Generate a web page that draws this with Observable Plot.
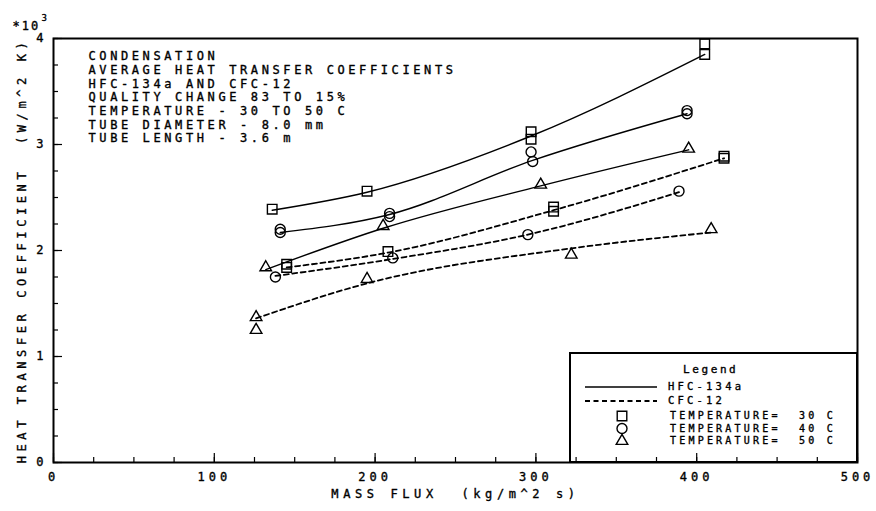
<!DOCTYPE html>
<html><head><meta charset="utf-8">
<script src="https://cdn.jsdelivr.net/npm/d3@7"></script>
<script src="https://cdn.jsdelivr.net/npm/@observablehq/plot@0.6"></script>
<style>
html,body{margin:0;padding:0;background:#fff;}
#chart svg text{white-space:pre;stroke:#000;stroke-width:0.35px;}
</style></head><body><div id="chart"></div>
<script>
// ---- Data (HTC in units of 10^3 W/m^2 K) ----
const hfc30Flux = [136, 195, 297, 297, 405, 405];
const hfc30Htc  = [2.39, 2.56, 3.12, 3.05, 3.95, 3.85];
const hfc40Flux = [141, 141, 209, 209, 297, 298, 394, 394];
const hfc40Htc  = [2.20, 2.17, 2.35, 2.32, 2.93, 2.84, 3.32, 3.29];
const hfc50Flux = [132, 205, 303, 395];
const hfc50Htc  = [1.84, 2.23, 2.62, 2.96];
const cfc30Flux = [145, 145, 208, 311, 311, 417, 417];
const cfc30Htc  = [1.87, 1.84, 1.99, 2.41, 2.37, 2.89, 2.87];
const cfc40Flux = [138, 211, 295, 389];
const cfc40Htc  = [1.75, 1.93, 2.15, 2.56];
const cfc50Flux = [126, 126, 195, 322, 409];
const cfc50Htc  = [1.37, 1.25, 1.73, 1.96, 2.20];

// fitted curves as drawn in the reference
const hfc30FitFlux = [136, 195, 297, 405];
const hfc30FitHtc  = [2.38, 2.55, 3.08, 3.85];
const hfc40FitFlux = [141, 209, 298, 394];
const hfc40FitHtc  = [2.17, 2.34, 2.85, 3.29];
const hfc50FitFlux = [132, 205, 303, 395];
const hfc50FitHtc  = [1.82, 2.21, 2.61, 2.95];
const cfc30FitFlux = [145, 208, 311, 417];
const cfc30FitHtc  = [1.84, 1.98, 2.38, 2.87];
const cfc40FitFlux = [138, 211, 295, 389];
const cfc40FitHtc  = [1.76, 1.92, 2.15, 2.55];
const cfc50FitFlux = [126, 195, 322, 409];
const cfc50FitHtc  = [1.36, 1.69, 2.02, 2.17];

const xMajor = [0, 100, 200, 300, 400, 500];
const xMinor = d3.range(0, 501, 25);
const yMajor = [0, 1, 2, 3, 4];
const yMinor = d3.range(0, 4.01, 0.25);

const notes = [
  "CONDENSATION",
  "AVERAGE HEAT TRANSFER COEFFICIENTS",
  "HFC-134a AND CFC-12",
  "QUALITY CHANGE 83 TO 15%",
  "TEMPERATURE - 30 TO 50 C",
  "TUBE DIAMETER - 8.0 mm",
  "TUBE LENGTH - 3.6 m"
];
const xTitle = "MASS FLUX  (kg/m^2 s)";
const yTitle = "HEAT TRANSFER COEFFICIENT  (W/m^2 K)";
const legendTitle = "Legend";
const refrigerants = ["HFC-134a", "CFC-12"];
const tempLabels = ["TEMPERATURE=  30 C", "TEMPERATURE=  40 C", "TEMPERATURE=  50 C"];

// ---- Build tables ----
const series = [
  {ref: "HFC-134a", temp: 30, flux: hfc30Flux, htc: hfc30Htc, ff: hfc30FitFlux, fh: hfc30FitHtc},
  {ref: "HFC-134a", temp: 40, flux: hfc40Flux, htc: hfc40Htc, ff: hfc40FitFlux, fh: hfc40FitHtc},
  {ref: "HFC-134a", temp: 50, flux: hfc50Flux, htc: hfc50Htc, ff: hfc50FitFlux, fh: hfc50FitHtc},
  {ref: "CFC-12", temp: 30, flux: cfc30Flux, htc: cfc30Htc, ff: cfc30FitFlux, fh: cfc30FitHtc},
  {ref: "CFC-12", temp: 40, flux: cfc40Flux, htc: cfc40Htc, ff: cfc40FitFlux, fh: cfc40FitHtc},
  {ref: "CFC-12", temp: 50, flux: cfc50Flux, htc: cfc50Htc, ff: cfc50FitFlux, fh: cfc50FitHtc}
];
const points = series.flatMap(s => s.flux.map((f, i) => ({ref: s.ref, temp: s.temp, flux: f, htc: s.htc[i]})));
const fits = series.flatMap(s => s.ff.map((f, i) => ({key: s.ref + s.temp, ref: s.ref, flux: f, htc: s.fh[i]})));

const W = 876, H = 511, mL = 53, mR = 19, mT = 38, mB = 49;
const fw = W - mL - mR, fh = H - mT - mB;
const FONT = "DejaVu Sans Mono";

const plot = Plot.plot({
  width: W, height: H,
  marginLeft: mL, marginRight: mR, marginTop: mT, marginBottom: mB,
  x: {domain: [0, 500]},
  y: {domain: [0, 4]},
  style: {background: "#fff", color: "#000", fontFamily: FONT, fontSize: "12px"},
  marks: [
    Plot.axisX({ticks: xMajor, tickSize: 0, tickPadding: 10, label: null, fontSize: 12, tickFormat: "d"}),
    Plot.axisY({ticks: yMajor, tickSize: 0, tickPadding: 6, label: null, fontSize: 12, tickFormat: "d"}),
    Plot.ruleX(xMinor, {insetTop: fh - 5, strokeWidth: 1.2}),
    Plot.ruleX(xMajor, {insetTop: fh - 9, strokeWidth: 1.2}),
    Plot.ruleY(yMinor, {insetRight: fw - 5, strokeWidth: 1.2}),
    Plot.ruleY(yMajor, {insetRight: fw - 9, strokeWidth: 1.2}),
    Plot.line(fits.filter(d => d.ref === "HFC-134a"), {x: "flux", y: "htc", z: "key", curve: "monotone-x", stroke: "#000", strokeWidth: 1.4}),
    Plot.line(fits.filter(d => d.ref === "CFC-12"), {x: "flux", y: "htc", z: "key", curve: "monotone-x", stroke: "#000", strokeWidth: 1.8, strokeDasharray: "5,3.5"}),
    Plot.dot(points.filter(d => d.temp === 30), {x: "flux", y: "htc", symbol: "square", r: 5.4, fill: "none", stroke: "#000", strokeWidth: 1.4}),
    Plot.dot(points.filter(d => d.temp === 40), {x: "flux", y: "htc", symbol: "circle", r: 5, fill: "none", stroke: "#000", strokeWidth: 1.4}),
    Plot.dot(points.filter(d => d.temp === 50), {x: "flux", y: "htc", symbol: "triangle", r: 4.3, fill: "none", stroke: "#000", strokeWidth: 1.4}),
    Plot.frame({stroke: "#000", strokeWidth: 2}),
    Plot.text([notes.join("\n")], {frameAnchor: "top-left", dx: 35, dy: 12, lineAnchor: "top", textAnchor: "start", lineHeight: 1.14, fontSize: 12, fill: "#000"}),
    Plot.text([xTitle], {frameAnchor: "bottom", dy: 35, textAnchor: "middle", fontSize: 12, fill: "#000"}),
    Plot.text([yTitle], {frameAnchor: "left", dx: -31, rotate: -90, textAnchor: "middle", fontSize: 12, fill: "#000"}),
    Plot.text(["*10"], {frameAnchor: "top-left", dx: -41, dy: -17, textAnchor: "start", fontSize: 12, fill: "#000"}),
    Plot.text(["3"], {frameAnchor: "top-left", dx: -12, dy: -24, textAnchor: "start", fontSize: 9, fill: "#000"})
  ]
});

document.getElementById("chart").appendChild(plot);
const svg = d3.select(plot);
svg.selectAll("text").style("letter-spacing", "3.6px");
svg.selectAll("g[aria-label='x-axis tick label'] text, g[aria-label='y-axis tick label'] text").style("letter-spacing", "4px");
svg.selectAll("text").filter(function() { return this.textContent === xTitle || this.textContent === yTitle; }).style("letter-spacing", "4.6px");
svg.selectAll("text").filter(function() { return this.textContent === "*10"; }).style("letter-spacing", "2px");

// ---- Legend box (drawn in pixel space, bottom-right of frame) ----
const lx0 = 570, ly0 = 353, lx1 = W - mR, ly1 = H - mB;
const lg = svg.append("g").attr("font-family", FONT).attr("fill", "#000").attr("text-anchor", "start");
lg.append("rect").attr("x", lx0).attr("y", ly0).attr("width", lx1 - lx0).attr("height", ly1 - ly0)
  .attr("fill", "none").attr("stroke", "#000").attr("stroke-width", 2);
lg.append("text").attr("x", 683).attr("y", 370).attr("dominant-baseline", "middle").attr("text-anchor", "start")
  .attr("font-size", 11).style("letter-spacing", "2.6px").text(legendTitle);
const dashes = [null, "5,3.5"];
refrigerants.forEach((r, i) => {
  const y = 387 + i * 14;
  lg.append("line").attr("x1", 585).attr("x2", 657).attr("y1", y).attr("y2", y)
    .attr("stroke", "#000").attr("stroke-width", i ? 1.8 : 1.4).attr("stroke-dasharray", dashes[i]);
  lg.append("text").attr("x", 668).attr("y", y).attr("dominant-baseline", "middle").attr("text-anchor", "start")
    .attr("font-size", 10.5).style("letter-spacing", "3.2px").style("white-space", "pre").text(r);
});
const syms = [d3.symbolSquare, d3.symbolCircle, d3.symbolTriangle];
const symSizes = [Math.PI * 5.4 * 5.4, Math.PI * 25, Math.PI * 4.3 * 4.3];
tempLabels.forEach((t, i) => {
  const y = 416 + i * 12.5;
  lg.append("path").attr("transform", `translate(622,${y})`).attr("d", d3.symbol(syms[i], symSizes[i])())
    .attr("fill", "none").attr("stroke", "#000").attr("stroke-width", 1.4);
  lg.append("text").attr("x", 670).attr("y", y).attr("dominant-baseline", "middle").attr("text-anchor", "start")
    .attr("font-size", 10).style("letter-spacing", "3.2px").style("white-space", "pre").text(t);
});
</script>
</body></html>
